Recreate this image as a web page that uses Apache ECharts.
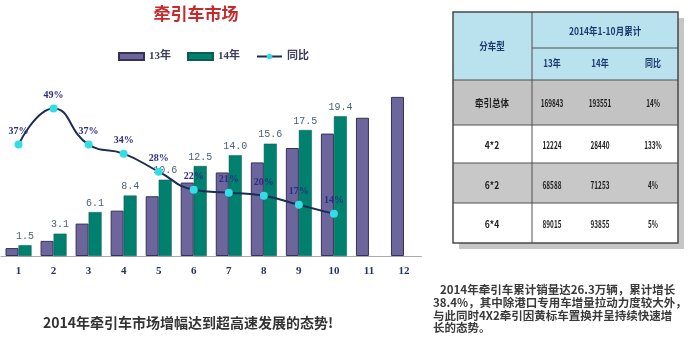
<!DOCTYPE html>
<html>
<head>
<meta charset="utf-8">
<script src="https://cdn.jsdelivr.net/npm/echarts@6/dist/echarts.min.js"></script>
<style>
  html, body { margin: 0; padding: 0; background: #fff; }
  #main { width: 700px; height: 353px; }
</style>
</head>
<body>
<div id="main"></div>
<script>
// 月份
var months = ['1', '2', '3', '4', '5', '6', '7', '8', '9', '10', '11', '12'];
// 累计销量（万辆）
var sales13 = [1.1, 2.1, 4.5, 6.3, 8.3, 10.2, 11.6, 13.0, 15.0, 17.0, 19.2, 22.1];
var sales14 = [1.5, 3.1, 6.1, 8.4, 10.6, 12.5, 14.0, 15.6, 17.5, 19.4, null, null];
// 同比 %
var yoy = [37, 49, 37, 34, 28, 22, 21, 20, 17, 14];

// 右侧表格
var tableHead = ['分车型', '2014年1-10月累计'];
var tableSubHead = ['13年', '14年', '同比'];
var tableRows = [
    ['牵引总体', '169843', '193551', '14%'],
    ['4*2', '12224', '28440', '133%'],
    ['6*2', '68588', '71253', '4%'],
    ['6*4', '89015', '93855', '5%']
];

var caption = '2014年牵引车市场增幅达到超高速发展的态势!';
var noteLines = [
    '2014年牵引车累计销量达26.3万辆，累计增长',
    '38.4%，其中除港口专用车增量拉动力度较大外，',
    '与此同时4X2牵引因黄标车置换并呈持续快速增',
    '长的态势。'
];

var CJK = '"Noto Sans CJK SC"';
var SERIF = '"Liberation Serif", "Noto Sans CJK SC"';

// 表格 graphic
function buildTable() {
    var x0 = 453, x1 = 532, x2 = 678;
    var ys = [12, 48, 80, 125, 163, 203, 243];
    var colX = [492, 552, 600, 653];
    var rowFill = ['#c3c3c3', '#ffffff', '#c8c8c8', '#ffffff'];
    var els = [];
    els.push({ type: 'rect', shape: { x: x0 + 6, y: ys[0] + 6, width: x2 - x0, height: ys[6] - ys[0] }, style: { fill: '#c6c6c6' } });
    els.push({ type: 'rect', shape: { x: x0, y: ys[0], width: x2 - x0, height: ys[2] - ys[0] }, style: { fill: '#b9e1ee' } });
    for (var i = 0; i < tableRows.length; i++) {
        els.push({ type: 'rect', shape: { x: x0, y: ys[i + 2], width: x2 - x0, height: ys[i + 3] - ys[i + 2] }, style: { fill: rowFill[i] } });
    }
    var lineStyle = { stroke: '#505050', lineWidth: 1 };
    for (var k = 2; k < 6; k++) {
        els.push({ type: 'line', shape: { x1: x0, y1: ys[k], x2: x2, y2: ys[k] }, style: lineStyle });
    }
    els.push({ type: 'line', shape: { x1: x1, y1: ys[1], x2: x2, y2: ys[1] }, style: lineStyle });
    els.push({ type: 'line', shape: { x1: x1, y1: ys[0], x2: x1, y2: ys[6] }, style: lineStyle });
    els.push({ type: 'rect', shape: { x: x0, y: ys[0], width: x2 - x0, height: ys[6] - ys[0] }, style: { fill: null, stroke: '#4a4a4a', lineWidth: 1.5 } });

    function txt(s, x, y, color, sx) {
        return {
            type: 'text', x: x, y: y, scaleX: sx,
            style: { text: s, fill: color, font: 'bold 10px ' + CJK, align: 'center', verticalAlign: 'middle' }
        };
    }
    els.push(txt(tableHead[0], colX[0], 46, '#1c3a6e', 0.85));
    els.push(txt(tableHead[1], 605, 31, '#1c3a6e', 0.85));
    for (var j = 0; j < tableSubHead.length; j++) {
        els.push(txt(tableSubHead[j], colX[j + 1], 63, '#1c3a6e', 0.8));
    }
    var rowY = [103, 145, 185, 224];
    for (var r = 0; r < tableRows.length; r++) {
        for (var c = 0; c < 4; c++) {
            els.push(txt(tableRows[r][c], colX[c], rowY[r], '#1e1e1e', c === 0 ? 0.85 : 0.64));
        }
    }
    return els;
}

var graphics = buildTable();
graphics.push({
    type: 'text', x: 43, y: 323,
    style: { text: caption, fill: '#333333', font: 'bold 14px ' + CJK, verticalAlign: 'middle' }
});
for (var n = 0; n < noteLines.length; n++) {
    graphics.push({
        type: 'text', x: n === 0 ? 440 : 433, y: 290 + n * 12.7,
        style: { text: noteLines[n], fill: '#3a3a3a', font: 'bold 11.5px ' + CJK, verticalAlign: 'middle' }
    });
}

var chart = echarts.init(document.getElementById('main'));
chart.setOption({
    backgroundColor: '#ffffff',
    animation: false,
    title: {
        text: '牵引车市场',
        left: 191,
        textAlign: 'center',
        top: 0,
        textStyle: { color: '#c62a2a', fontSize: 17, fontWeight: 'bold', fontFamily: CJK }
    },
    legend: {
        left: 113,
        top: 46,
        itemWidth: 25,
        itemHeight: 7,
        itemGap: 16,
        textStyle: { color: '#3b3b5c', fontSize: 11, fontWeight: 'bold', fontFamily: SERIF },
        data: [
            { name: '13年', icon: 'rect' },
            { name: '14年', icon: 'rect' },
            { name: '同比' }
        ]
    },
    grid: { left: 1, right: 278.5, top: 90.4, bottom: 97, containLabel: false },
    xAxis: {
        type: 'category',
        data: months,
        axisLine: { lineStyle: { color: '#aaaaaa' } },
        axisTick: { length: 4, lineStyle: { color: '#cccccc' } },
        axisLabel: { margin: 10, color: '#223366', fontSize: 11, fontWeight: 'bold', fontFamily: SERIF }
    },
    yAxis: [
        { type: 'value', min: 0, max: 23, show: false, splitLine: { show: false } },
        { type: 'value', min: 0, max: 55, show: false, splitLine: { show: false } }
    ],
    series: [
        {
            name: '13年',
            type: 'bar',
            data: sales13,
            barWidth: 13,
            barGap: '0%',
            itemStyle: { color: '#6c669c', borderColor: '#35325a', borderWidth: 1 }
        },
        {
            name: '14年',
            type: 'bar',
            data: sales14,
            barWidth: 13,
            itemStyle: { color: '#00806f', borderColor: '#0c5a50', borderWidth: 0.5 },
            label: {
                show: true,
                position: 'top',
                distance: 4,
                formatter: function (p) { return p.value == null ? '' : p.value.toFixed(1); },
                color: '#4d6272',
                fontSize: 10,
                fontFamily: '"Liberation Mono"'
            }
        },
        {
            name: '同比',
            type: 'line',
            yAxisIndex: 1,
            data: yoy,
            smooth: true,
            symbol: 'circle',
            symbolSize: 8,
            z: 5,
            lineStyle: { color: '#1c2d55', width: 2 },
            itemStyle: { color: '#33dde6', borderWidth: 0 },
            label: {
                show: true,
                position: 'top',
                distance: 4,
                formatter: '{c}%',
                color: '#2b2b88',
                fontSize: 10,
                fontWeight: 'bold',
                fontFamily: SERIF
            }
        }
    ],
    graphic: graphics
});
</script>
</body>
</html>
